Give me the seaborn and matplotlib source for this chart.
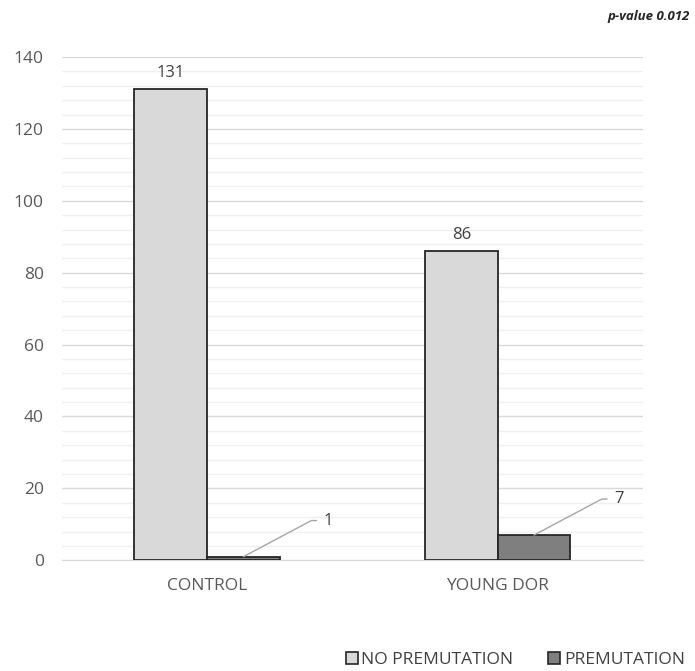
import pandas as pd
import matplotlib.pyplot as plt
import seaborn as sns
from matplotlib.ticker import MultipleLocator

groups = ['CONTROL', 'YOUNG DOR']
no_premutation = [131, 86]
premutation = [1, 7]
series = ['NO PREMUTATION', 'PREMUTATION']

data = pd.DataFrame({
    'group': groups * 2,
    'status': [series[0]] * 2 + [series[1]] * 2,
    'count': no_premutation + premutation,
})

sns.set_style('white')
plt.rcParams['font.family'] = ['Open Sans', 'DejaVu Sans']

fig = plt.figure(figsize=(6.95, 6.71), dpi=100)
ax = fig.add_axes([0.089, 0.165, 0.836, 0.75])

sns.barplot(data=data, x='group', y='count', hue='status', hue_order=series,
            palette=['#d9d9d9', '#7f7f7f'], width=0.5, gap=0,
            edgecolor='#262626', linewidth=1.3, ax=ax, zorder=3)

ax.set_xlim(-0.5, 1.5)
ax.set_ylim(0, 140)
ax.yaxis.set_major_locator(MultipleLocator(20))
ax.yaxis.set_minor_locator(MultipleLocator(4))
ax.grid(which='major', axis='y', color='#d9d9d9', linewidth=1.0, zorder=0)
ax.grid(which='minor', axis='y', color='#f0f0f0', linewidth=1.0, zorder=0)
ax.set_axisbelow(True)
for s in ['top', 'right', 'left']:
    ax.spines[s].set_visible(False)
ax.spines['bottom'].set_color('#d9d9d9')
ax.tick_params(axis='both', which='both', length=0, labelsize=12.5, colors='#595959')
ax.tick_params(axis='x', pad=13)
ax.tick_params(axis='y', pad=13)
ax.set_xlabel('')
ax.set_ylabel('')

# labels above the tall bars
ax.bar_label(ax.containers[0], padding=6, fontsize=12, color='#404040')

# callout labels for the small bars
for bar, v in zip(ax.containers[1], premutation):
    x0 = bar.get_x() + bar.get_width() / 2
    ax.annotate(str(v), xy=(x0, bar.get_height()), xytext=(58, 26),
                textcoords='offset points', fontsize=12, color='#404040',
                va='center', ha='left',
                arrowprops=dict(arrowstyle='-', color='#a6a6a6', lw=1.0,
                                shrinkA=3, shrinkB=0,
                                connectionstyle='angle,angleA=0,angleB=28,rad=0'))

fig.text(0.992, 0.975, 'p-value 0.012', ha='right', va='center',
         fontsize=9.5, style='italic', fontweight='bold', color='#262626')

ax.get_legend().remove()
handles = [plt.Rectangle((0, 0), 1, 1, facecolor=c, edgecolor='#262626', linewidth=1.2)
           for c in ['#d9d9d9', '#7f7f7f']]
fig.legend(handles, series, loc='center right', bbox_to_anchor=(1.008, 0.016),
           ncol=2, frameon=False, fontsize=12.5, handlelength=0.7, handleheight=0.7,
           handletextpad=0.2, columnspacing=2.0, labelcolor='#404040')

fig.savefig('out.png', dpi=100)
